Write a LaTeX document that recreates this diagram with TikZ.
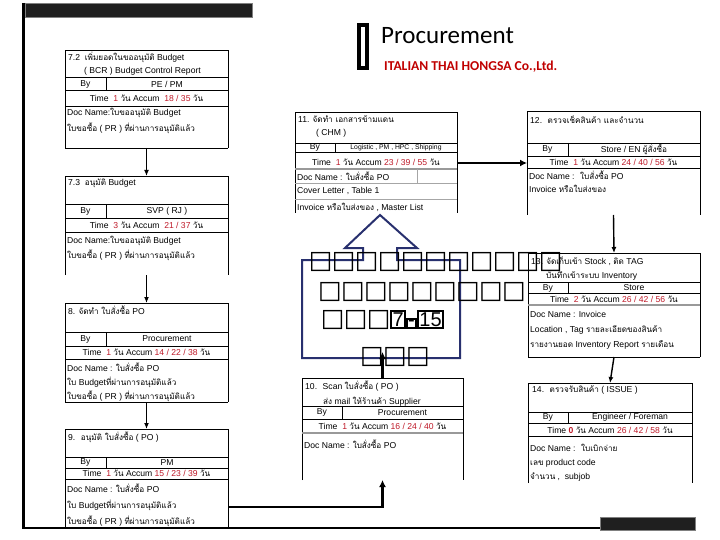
\documentclass[tikz,border=0pt]{standalone}
\usepackage{fontspec}
\setmainfont{Liberation Sans}
\newfontfamily\thaifnt[Script=Thai,Scale=0.95]{Loma}
\newfontfamily\calfnt{Carlito}
\newfontfamily\dvfnt{DejaVu Sans}
\usetikzlibrary{arrows.meta}
\definecolor{nred}{RGB}{190,25,40}
\definecolor{navy}{RGB}{40,48,110}
\definecolor{tred}{RGB}{192,0,0}
\newcommand\T[1]{{\thaifnt #1}}
\newcommand\R[1]{{\color{nred}#1}}
\newcommand\tofu{\makebox[23pt]{\dvfnt\fontsize{25}{25}\selectfont □}}
\newcommand\fbx[1]{{\setlength\fboxrule{1.8pt}\setlength\fboxsep{0.5pt}\fbox{#1}}}
% name, x1, y1, x2, xdiv, ytitle, yby, ytime, ybottom
\newcommand\pframe[9]{%
  \node[inner sep=0pt,outer sep=0pt,minimum width={(#4-#2)*1pt},minimum height={(#9-#3)*1pt},anchor=north west] (#1) at (#2,#3) {};
  \draw[tbl] (#2,#9) -- (#2,#3) -- (#4,#3) -- (#4,#9);
  \draw[tbl] (#2,#6) -- (#4,#6) (#2,#7) -- (#4,#7) (#5,#6) -- (#5,#7) (#2,#8) -- (#4,#8);
}
\tikzset{
  tbl/.style={line width=0.8pt,black},
  gline/.style={line width=1.6pt,gray!80},
  tx/.style={inner sep=0pt,anchor=west,font=\fontsize{8.6}{10}\selectfont},
  tc/.style={inner sep=0pt,anchor=center,font=\fontsize{8.6}{10}\selectfont},
  varr/.style={line width=1.4pt,-{Latex[length=6pt,width=5pt]}},
  barr/.style={line width=2.2pt,-{Latex[length=7pt,width=7pt]}},
}
\begin{document}
\begin{tikzpicture}[x=1pt,y=-1pt]
\useasboundingbox (0,0) rectangle (720,540);
% slide frame
\fill[black!88,draw=gray] (25,3) rectangle (252,17);
\draw[line width=3pt] (23,3) -- (23,528);
\draw[line width=1.4pt] (22,528) -- (600,528);
\fill[black!88,draw=gray] (600,517) rectangle (695,530);
% title
\draw[line width=4pt] (359,25) rectangle (367,68);
\node[inner sep=0pt,anchor=base west,font=\calfnt\fontsize{25}{28}\selectfont] (ttl) at (381,44) {Procurement};
\node[inner sep=0pt,anchor=base west,font=\calfnt\bfseries\fontsize{13.6}{15}\selectfont,text=tred] (sub) at (384,71) {ITALIAN THAI HONGSA Co.,Ltd.};

% ---- 7.2
\pframe{b72}{65}{50}{228}{106}{77}{90}{106}{148}
\draw[tbl] (65,148) -- (228,148);
\node[tx] (b72a) at (68,57) {7.2 \ \T{เพิ่มยอดในขออนุมัติ} Budget};
\node[tx] (b72b) at (84,71) {( BCR ) Budget Control Report};
\node[tc] (b72c) at (85.5,84) {By};
\node[tc] (b72d) at (167,84) {PE / PM};
\node[tc] (b72e) at (146.5,98.5) {Time \ \R{1} \T{วัน} Accum \ \R{18 / 35} \T{วัน}};
\node[tx] (b72f) at (67,113) {Doc Name:\T{ใบขออนุมัติ} Budget};
\node[tx] (b72g) at (67,128) {\T{ใบขอซื้อ} ( PR ) \T{ที่ผ่านการอนุมัติแล้ว}};

% ---- 7.3
\pframe{b73}{65}{176}{228}{106}{204}{218}{232}{275}
\node[tx] (b73a) at (68,183) {7.3 \ \T{อนุมัติ} Budget};
\node[tc] (b73c) at (85.5,211.5) {By};
\node[tc] (b73d) at (167,211.5) {SVP ( RJ )};
\node[tc] (b73e) at (146.5,225.5) {Time \ \R{3} \T{วัน} Accum \ \R{21 / 37} \T{วัน}};
\node[tx] (b73f) at (67,241) {Doc Name:\T{ใบขออนุมัติ} Budget};
\node[tx] (b73g) at (67,255) {\T{ใบขอซื้อ} ( PR ) \T{ที่ผ่านการอนุมัติแล้ว}};

% ---- 8
\pframe{b8}{65}{303}{228}{106}{332}{346}{359}{402}
\draw[tbl] (65,402) -- (228,402);
\node[tx] (b8a) at (68,310) {8. \T{จัดทำ ใบสั่งซื้อ} PO};
\node[tc] (b8c) at (85.5,339) {By};
\node[tc] (b8d) at (167,339) {Procurement};
\node[tc] (b8e) at (146.5,352.5) {Time \ \R{1} \T{วัน} Accum \R{14 / 22 / 38} \T{วัน}};
\node[tx] (b8f) at (67,367) {Doc Name : \T{ใบสั่งซื้อ} PO};
\node[tx] (b8g) at (67,382) {\T{ใบ} Budget\T{ที่ผ่านการอนุมัติแล้ว}};
\node[tx] (b8h) at (67,396) {\T{ใบขอซื้อ} ( PR ) \T{ที่ผ่านการอนุมัติแล้ว}};

% ---- 9
\pframe{b9}{65}{429}{228}{106}{457}{468}{479}{528}
\draw[tbl] (65,528) -- (228,528);
\node[tx] (b9a) at (68,437) {9. \ \T{อนุมัติ ใบสั่งซื้อ} ( PO )};
\node[tc] (b9c) at (85.5,462.5) {By};
\node[tc] (b9d) at (167,462.5) {PM};
\node[tc] (b9e) at (146.5,473.5) {Time \ \R{1} \T{วัน} Accum \R{15 / 23 / 39} \T{วัน}};
\node[tx] (b9f) at (67,488) {Doc Name : \T{ใบสั่งซื้อ} PO};
\node[tx] (b9g) at (67,505) {\T{ใบ} Budget\T{ที่ผ่านการอนุมัติแล้ว}};
\node[tx] (b9h) at (67,521) {\T{ใบขอซื้อ} ( PR ) \T{ที่ผ่านการอนุมัติแล้ว}};

% ---- 10
\pframe{b10}{302}{378}{463}{342}{406}{419}{433}{480}
\draw[gline] (302,433) -- (463,433);
\node[tx] (b10a) at (305,386) {10. \ Scan \T{ใบสั่งซื้อ} ( PO )};
\node[tx] (b10b) at (323,402) {\T{ส่ง} mail \T{ให้ร้านค้า} Supplier};
\node[tc] (b10c) at (322,412.5) {By};
\node[tc] (b10d) at (402.5,412.5) {Procurement};
\node[tc] (b10e) at (382.5,426) {Time \ \R{1} \T{วัน} Accum \R{16 / 24 / 40} \T{วัน}};
\node[tx] (b10f) at (304,444) {Doc Name : \T{ใบสั่งซื้อ} PO};

% ---- 11
\pframe{b11}{295}{112}{457}{335}{143}{152}{169}{213}
\draw[gline] (295,169) -- (457,169);
\draw[tbl,gray!70] (295,183) -- (457,183) (295,199) -- (457,199) (417,169) -- (417,183);
\node[tx] (b11a) at (298,119) {11. \T{จัดทำ เอกสารข้ามแดน}};
\node[tx] (b11b) at (316,133) {( CHM )};
\node[tc] (b11c) at (315,147.5) {By};
\node[tc,font=\fontsize{6.8}{8}\selectfont] (b11d) at (396,147.5) {Logistic , PM , HPC , Shipping};
\node[tc] (b11e) at (376,162) {Time \ \R{1} \T{วัน} Accum \R{23 / 39 / 55} \T{วัน}};
\node[tx] (b11f) at (297,176) {Doc Name : \T{ใบสั่งซื้อ} PO};
\node[tx] (b11g) at (297,191) {Cover Letter , Table 1};
\node[tx] (b11h) at (297,207) {Invoice \T{หรือใบส่งของ} , Master List};

% ---- 12
\pframe{b12}{527}{111}{700}{568}{143}{156}{168}{215}
\node[tx] (b12a) at (530,120) {12. \ \T{ตรวจเช็คสินค้า และจำนวน}};
\node[tc] (b12c) at (547.5,149.5) {By};
\node[tc] (b12d) at (634,149.5) {Store / EN \T{ผู้สั่งซื้อ}};
\node[tc] (b12e) at (613.5,162) {Time \ \R{1} \T{วัน} Accum \R{24 / 40 / 56} \T{วัน}};
\node[tx] (b12f) at (529,175) {Doc Name : \ \T{ใบสั่งซื้อ} PO};
\node[tx] (b12g) at (529,189) {Invoice \T{หรือใบส่งของ}};

% ---- 13
\pframe{b13}{528}{253}{700}{568}{282}{293}{305}{357}
\draw[gline] (528,305) -- (700,305);
\draw[tbl] (528,357) -- (700,357);
\node[tx] (b13a) at (531,261) {13. \T{จัดเก็บเข้า} Stock , \T{ติด} TAG};
\node[tx] (b13b) at (546,276) {\T{บันทึกเข้าระบบ} Inventory};
\node[tc] (b13c) at (548,288) {By};
\node[tc] (b13d) at (634,288) {Store};
\node[tc] (b13e) at (614,299.5) {Time \ \R{2} \T{วัน} Accum \R{26 / 42 / 56} \T{วัน}};
\node[tx] (b13f) at (530,314) {Doc Name : Invoice};
\node[tx] (b13g) at (530,330) {Location , Tag \T{รายละเอียดของสินค้า}};
\node[tx] (b13h) at (530,345) {\T{รายงานยอด} Inventory Report \T{รายเดือน}};

% ---- 14
\pframe{b14}{528}{383}{692}{568}{412}{423}{436}{483}
\node[tx] (b14a) at (532,390) {14. \ \T{ตรวจรับสินค้า} ( ISSUE )};
\node[tc] (b14c) at (548,417.5) {By};
\node[tc] (b14d) at (630,417.5) {Engineer / Foreman};
\node[tc] (b14e) at (610,430) {Time \R{\bfseries 0} \T{วัน} Accum \R{26 / 42 / 58} \T{วัน}};
\node[tx] (b14f) at (530,448) {Doc Name : \ \T{ใบเบิกจ่าย}};
\node[tx] (b14g) at (530,463) {\T{เลข} product code};
\node[tx] (b14h) at (530,477) {\T{จำนวน} , \ subjob};

% ---- callout
\draw[navy,line width=2pt,line join=miter]
  (363,260) -- (302,260) -- (302,358) -- (460,358) -- (460,260) -- (397,260)
  -- (397,248) -- (417,248) -- (380,215) -- (345,248) -- (363,248) -- cycle;
\coordinate (cot) at (382.5,352);
\node[inner sep=0pt,anchor=west] (cl1) at (309,262) {\tofu\tofu\tofu\tofu\tofu\tofu\tofu\tofu\tofu\tofu\tofu};
\node[inner sep=0pt,anchor=center] (cl2) at (422,292) {\tofu\tofu\tofu\tofu\tofu\tofu\tofu\tofu\tofu};
\node[inner sep=0pt,anchor=west,font=\fontsize{20}{22}\selectfont] (cl3) at (321,320) {\tofu\tofu\tofu\fbx{7}\fbx{-}\fbx{15}};
\node[inner sep=0pt,anchor=center] (cl4) at (395,357) {\tofu\tofu\tofu};

% ---- connectors
\coordinate (a9) at (228,507);
\coordinate (t11) at (457,163);
\draw[varr] (b72.south) -- (b73.north);
\draw[varr] (b73.south) -- (b8.north);
\draw[varr] (b8.south) -- (b9.north);
\draw[barr] (a9) -| (b10.south);
\draw[barr] (b10.north) -- (cot);
\draw[barr] (t11) -- (b12.west |- t11);
\draw[varr] (b12.south) -- (b13.north);
\draw[varr] (b13.south) -- (b14.north);
\end{tikzpicture}
\end{document}
